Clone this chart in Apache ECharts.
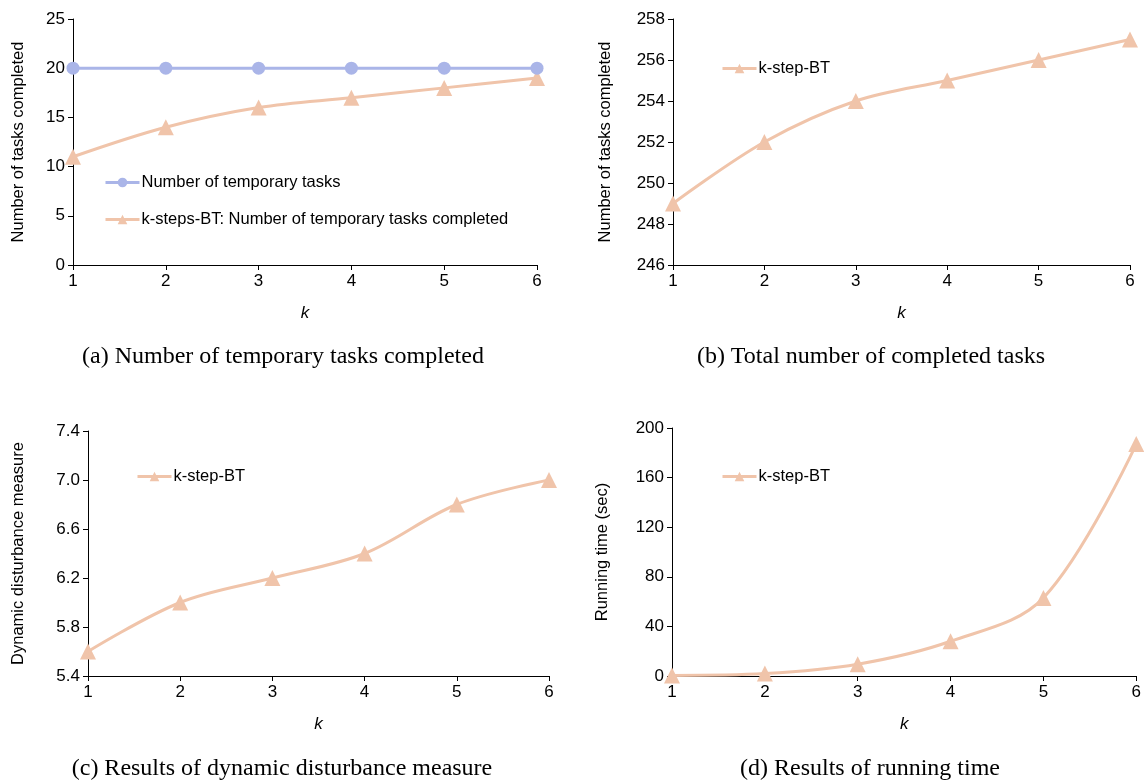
<!DOCTYPE html>
<html>
<head>
<meta charset="utf-8">
<script src="https://cdn.jsdelivr.net/npm/echarts@6/dist/echarts.min.js"></script>
<style>
  html, body { margin: 0; padding: 0; background: #fff; }
  #chart { width: 1144px; height: 781px; }
</style>
</head>
<body>
<div id="chart"></div>
<script>
// k 值
const kValues = [1, 2, 3, 4, 5, 6]
// (a) 临时任务数 / 完成数
const tempTasks = [20, 20, 20, 20, 20, 20]
const tempCompleted = [11, 14, 16, 17, 18, 19]
// (b) 完成任务总数
const totalCompleted = [249, 252, 254, 255, 256, 257]
// (c) 动态扰动度量
const disturbance = [5.6, 6.0, 6.2, 6.4, 6.8, 7.0]
// (d) 运行时间 (sec)
const runTime = [0.5, 2, 9.5, 28, 63, 187]

const blue = '#aab5e8'
const orange = '#f0c4aa'
const sans = 'Liberation Sans, Arial, sans-serif'
const serif = 'Liberation Serif, Times New Roman, serif'

const pair = arr => arr.map((v, i) => [kValues[i], v])

function xAx (gi) {
  return {
    gridIndex: gi, type: 'value', min: 1, max: 6, interval: 1,
    name: 'k', nameLocation: 'middle', nameGap: 40,
    nameTextStyle: { fontFamily: sans, fontSize: 17, fontStyle: 'italic', color: '#000' },
    axisLine: { lineStyle: { color: '#000', width: 1 } },
    axisTick: { show: true, length: 5, lineStyle: { color: '#000' } },
    axisLabel: { fontFamily: sans, fontSize: 17, color: '#000', margin: 8 },
    splitLine: { show: false }
  }
}
function yAx (gi, min, max, interval, name, gap, fmt) {
  return {
    gridIndex: gi, type: 'value', min: min, max: max, interval: interval,
    name: name, nameLocation: 'middle', nameRotate: 90, nameGap: gap,
    nameTextStyle: { fontFamily: sans, fontSize: 16.5, color: '#000' },
    axisLine: { show: true, lineStyle: { color: '#000', width: 1 } },
    axisTick: { show: true, length: 5, lineStyle: { color: '#000' } },
    axisLabel: { fontFamily: sans, fontSize: 17, color: '#000', margin: 8, formatter: fmt },
    splitLine: { show: false }
  }
}
function line (name, data, gi, color, symbol, size) {
  return {
    name: name, type: 'line', xAxisIndex: gi, yAxisIndex: gi,
    data: pair(data), smooth: 0.35,
    symbol: symbol, symbolSize: size, showSymbol: true,
    lineStyle: { color: color, width: 3 },
    itemStyle: { color: color },
    z: symbol === 'circle' ? 3 : 2
  }
}
function legendAt (left, top, names) {
  return {
    left: left, top: top, orient: 'vertical', itemGap: 20,
    itemWidth: 34, itemHeight: 12,
    lineStyle: { width: 3 },
    textStyle: { fontFamily: sans, fontSize: 16.5, color: '#000', padding: [0, 0, 0, -3] },
    data: names
  }
}

const chart = echarts.init(document.getElementById('chart'))
chart.setOption({
  backgroundColor: '#fff',
  animation: false,
  grid: [
    { left: 73, right: 607, top: 19, bottom: 516 },
    { left: 673, right: 14, top: 19, bottom: 516 },
    { left: 88, right: 595, top: 431, bottom: 105 },
    { left: 672, right: 7, top: 428, bottom: 105 }
  ],
  xAxis: [xAx(0), xAx(1), xAx(2), xAx(3)],
  yAxis: [
    yAx(0, 0, 25, 5, 'Number of tasks completed', 46),
    yAx(1, 246, 258, 2, 'Number of tasks completed', 59),
    yAx(2, 5.4, 7.4, 0.4, 'Dynamic disturbance measure', 61, v => v.toFixed(1)),
    yAx(3, 0, 200, 40, 'Running time (sec)', 61)
  ],
  legend: [
    legendAt(99, 169, ['Number of temporary tasks', 'k-steps-BT: Number of temporary tasks completed']),
    legendAt(716, 55, [{ name: 'k-step-BT' }]),
    legendAt(131, 463, [{ name: 'k-step-BT' }]),
    legendAt(716, 463, [{ name: 'k-step-BT' }])
  ],
  title: [
    { text: '(a) Number of temporary tasks completed', left: 278, top: 340, textAlign: 'center',
      textStyle: { fontFamily: serif, fontSize: 24, fontWeight: 'normal', color: '#000' } },
    { text: '(b) Total number of completed tasks', left: 866, top: 340, textAlign: 'center',
      textStyle: { fontFamily: serif, fontSize: 24, fontWeight: 'normal', color: '#000' } },
    { text: '(c) Results of dynamic disturbance measure', left: 277, top: 752, textAlign: 'center',
      textStyle: { fontFamily: serif, fontSize: 24, fontWeight: 'normal', color: '#000' } },
    { text: '(d) Results of running time', left: 865, top: 752, textAlign: 'center',
      textStyle: { fontFamily: serif, fontSize: 24, fontWeight: 'normal', color: '#000' } }
  ],
  series: [
    line('Number of temporary tasks', tempTasks, 0, blue, 'circle', 13),
    line('k-steps-BT: Number of temporary tasks completed', tempCompleted, 0, orange, 'triangle', 16),
    line('k-step-BT', totalCompleted, 1, orange, 'triangle', 16),
    line('k-step-BT', disturbance, 2, orange, 'triangle', 16),
    line('k-step-BT', runTime, 3, orange, 'triangle', 16)
  ]
})
</script>
</body>
</html>
